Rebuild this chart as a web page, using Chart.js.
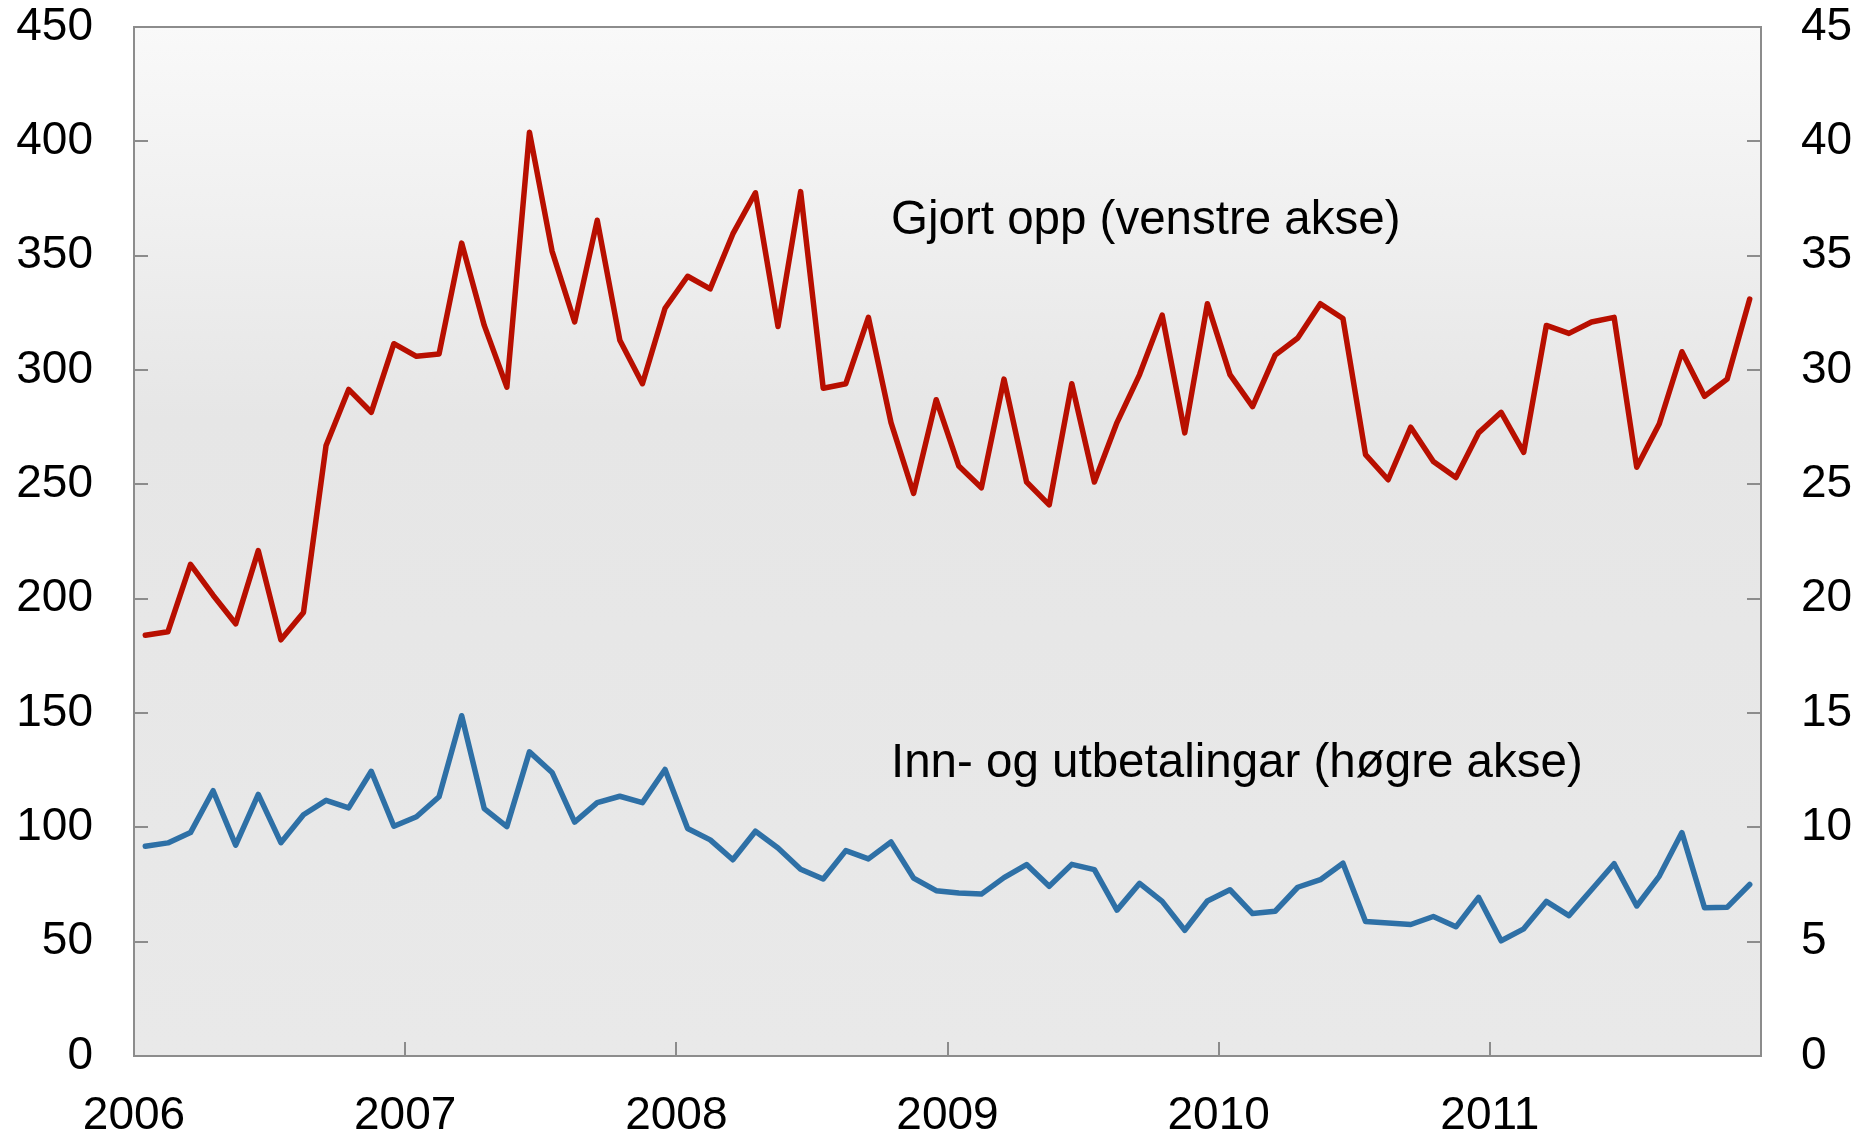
<!DOCTYPE html>
<html>
<head>
<meta charset="utf-8">
<script src="https://cdn.jsdelivr.net/npm/chart.js@4/dist/chart.umd.min.js"></script>
<style>
  html, body { margin: 0; padding: 0; background: #ffffff; }
  canvas { display: block; }
</style>
</head>
<body>
<canvas id="c" width="1865" height="1139"></canvas>
<script>
// ---- Data (monthly, Jan 2006 – Dec 2011) ----
const years = ['2006', '2007', '2008', '2009', '2010', '2011'];
const categories = [];
years.forEach(y => { for (let m = 1; m <= 12; m++) categories.push(y + '-' + String(m).padStart(2, '0')); });

// Gjort opp (venstre akse)
const gjortOpp = [
  184, 185.5, 215, 201.5, 189, 221, 182, 194, 267, 291.5, 281.5, 311.5,
  306, 307, 355.5, 319.5, 292.5, 404, 352, 321, 365.5, 313, 294, 327,
  341, 335.5, 359.5, 377.5, 319, 378, 292, 294, 323, 277, 246, 287,
  258, 248.5, 296, 251, 241, 294, 251, 277, 298, 324, 272.5, 329,
  298, 284, 306.5, 314, 329, 322.5, 263, 252, 275, 260, 253, 272.5,
  281.5, 264, 319.5, 316, 321, 323, 257.5, 276.5, 308, 288.5, 296, 331
];

// Inn- og utbetalingar (høgre akse)
const innUt = [
  9.17, 9.32, 9.77, 11.6, 9.22, 11.44, 9.33, 10.55, 11.18, 10.85, 12.45, 10.05,
  10.46, 11.34, 14.88, 10.82, 10.03, 13.3, 12.4, 10.23, 11.08, 11.36, 11.08, 12.53,
  9.95, 9.45, 8.58, 9.83, 9.1, 8.17, 7.74, 8.98, 8.62, 9.36, 7.78, 7.23,
  7.13, 7.08, 7.8, 8.37, 7.42, 8.38, 8.15, 6.38, 7.55, 6.76, 5.5, 6.78,
  7.27, 6.23, 6.33, 7.38, 7.71, 8.43, 5.88, 5.82, 5.75, 6.1, 5.65, 6.94,
  5.04, 5.56, 6.76, 6.14, 7.27, 8.41, 6.56, 7.87, 9.77, 6.48, 6.5, 7.5
];

const leftTicks = [0, 50, 100, 150, 200, 250, 300, 350, 400, 450];
const rightTicks = [0, 5, 10, 15, 20, 25, 30, 35, 40, 45];

const seriesLabels = ['Gjort opp (venstre akse)', 'Inn- og utbetalingar (høgre akse)'];
// label anchors in data units: [x month-position, y value on left axis]
const labelAnchors = [[33.5, 359.5], [33.5, 122]];

// ---- Build chart ----
const toPoints = arr => arr.map((v, i) => ({ x: i + 0.5, y: v }));
const FONT = "'Liberation Sans', Arial, Helvetica, sans-serif";
const AXIS_COLOR = '#8c8c8c';

const framePlugin = {
  id: 'frame',
  beforeDraw(chart) {
    const { ctx, chartArea: a } = chart;
    const g = ctx.createLinearGradient(0, a.top, 0, a.bottom);
    g.addColorStop(0, '#f9f9f9');
    g.addColorStop(0.38, '#e6e6e6');
    g.addColorStop(1, '#e9e9e9');
    ctx.save();
    ctx.fillStyle = g;
    ctx.fillRect(a.left, a.top, a.right - a.left, a.bottom - a.top);
    ctx.restore();
  },
  afterDraw(chart) {
    const { ctx, chartArea: a, scales } = chart;
    const TL = 14;
    ctx.save();
    ctx.strokeStyle = AXIS_COLOR;
    ctx.lineWidth = 2;
    ctx.strokeRect(a.left, a.top, a.right - a.left, a.bottom - a.top);
    ctx.beginPath();
    scales.y.ticks.forEach(t => {
      const py = Math.round(scales.y.getPixelForValue(t.value));
      if (py <= a.top + 1 || py >= a.bottom - 1) return;
      ctx.moveTo(a.left, py); ctx.lineTo(a.left + TL, py);
    });
    scales.y2.ticks.forEach(t => {
      const py = Math.round(scales.y2.getPixelForValue(t.value));
      if (py <= a.top + 1 || py >= a.bottom - 1) return;
      ctx.moveTo(a.right, py); ctx.lineTo(a.right - TL, py);
    });
    scales.x.ticks.forEach(t => {
      const px = Math.round(scales.x.getPixelForValue(t.value));
      if (px <= a.left + 1 || px >= a.right - 1) return;
      ctx.moveTo(px, a.bottom); ctx.lineTo(px, a.bottom - TL);
    });
    ctx.stroke();
    // series labels
    ctx.fillStyle = '#000000';
    ctx.font = '47.5px ' + FONT;
    ctx.textBaseline = 'alphabetic';
    ctx.textAlign = 'left';
    seriesLabels.forEach((s, i) => {
      const px = scales.x.getPixelForValue(labelAnchors[i][0]);
      const py = scales.y.getPixelForValue(labelAnchors[i][1]);
      ctx.fillText(s, px, py);
    });
    ctx.restore();
  }
};

function noPad(s) { s.paddingTop = 0; s.paddingBottom = 0; s.paddingLeft = 0; s.paddingRight = 0; }

new Chart(document.getElementById('c'), {
  type: 'line',
  data: {
    datasets: [
      {
        label: seriesLabels[0],
        data: toPoints(gjortOpp),
        yAxisID: 'y',
        borderColor: '#b80f00',
        borderWidth: 5.5,
        pointRadius: 0,
        tension: 0,
        borderJoinStyle: 'round',
        borderCapStyle: 'round',
        fill: false
      },
      {
        label: seriesLabels[1],
        data: toPoints(innUt),
        yAxisID: 'y2',
        borderColor: '#2e70a6',
        borderWidth: 5.5,
        pointRadius: 0,
        tension: 0,
        borderJoinStyle: 'round',
        borderCapStyle: 'round',
        fill: false
      }
    ]
  },
  options: {
    responsive: false,
    animation: false,
    events: [],
    layout: { padding: { top: 27, left: 0, right: 0, bottom: 0 } },
    plugins: { legend: { display: false }, tooltip: { enabled: false } },
    scales: {
      x: {
        type: 'linear',
        min: 0,
        max: categories.length,
        grid: { display: false, drawTicks: false },
        border: { display: false },
        afterFit(s) { s.height = 83; noPad(s); },
        afterBuildTicks(s) {
          s.ticks = years.map((y, i) => ({ value: i * 12 })).concat([{ value: categories.length }]);
        },
        ticks: {
          autoSkip: false,
          maxRotation: 0,
          padding: 33,
          color: '#000000',
          font: { family: FONT, size: 46 },
          callback: (v) => years[v / 12] !== undefined ? years[v / 12] : ''
        }
      },
      y: {
        position: 'left',
        min: 0,
        max: 450,
        grid: { display: false, drawTicks: false },
        border: { display: false },
        afterFit(s) { s.width = 134; noPad(s); },
        afterBuildTicks(s) { s.ticks = leftTicks.map(v => ({ value: v })); },
        ticks: {
          padding: 41,
          color: '#000000',
          font: { family: FONT, size: 46 },
          callback: v => String(v)
        }
      },
      y2: {
        position: 'right',
        min: 0,
        max: 45,
        grid: { display: false, drawTicks: false },
        border: { display: false },
        afterFit(s) { s.width = 104; noPad(s); },
        afterBuildTicks(s) { s.ticks = rightTicks.map(v => ({ value: v })); },
        ticks: {
          padding: 40,
          color: '#000000',
          font: { family: FONT, size: 46 },
          callback: v => String(v)
        }
      }
    }
  },
  plugins: [framePlugin]
});
</script>
</body>
</html>
